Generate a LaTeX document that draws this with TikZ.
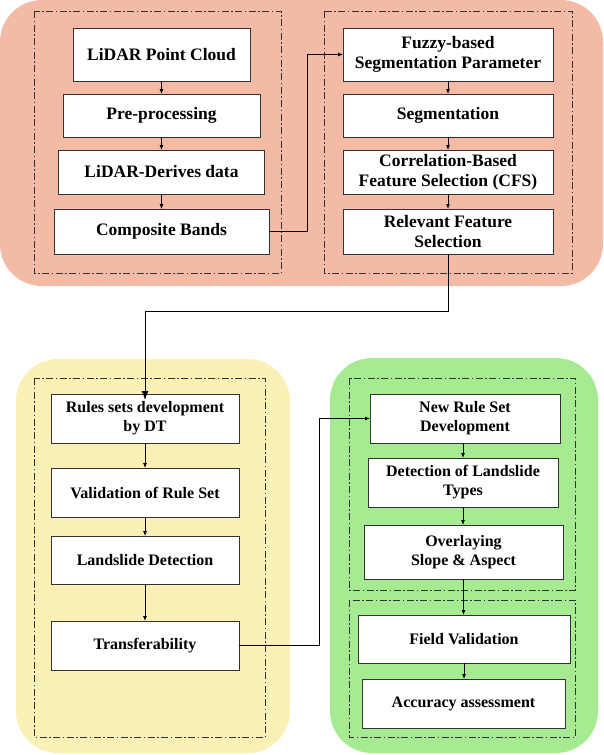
\documentclass[tikz,border=0pt]{standalone}
\usepackage{fontspec}
\setmainfont{Liberation Serif}
\usetikzlibrary{arrows.meta}
\definecolor{salmon}{RGB}{243,186,165}
\definecolor{pyellow}{RGB}{251,241,183}
\definecolor{pgreen}{RGB}{166,235,145}
\definecolor{edge}{RGB}{50,50,50}
\tikzset{
  boxT/.style={draw=edge, line width=0.9pt, fill=white, inner sep=0pt, outer sep=0pt, align=center,
    font=\fontsize{17.5}{20}\selectfont\bfseries},
  boxB/.style={draw=edge, line width=0.9pt, fill=white, inner sep=0pt, outer sep=0pt, align=center,
    font=\fontsize{16}{19}\selectfont\bfseries},
  frame/.style={draw=edge, line width=0.8pt, dash pattern=on 7pt off 2.5pt on 1.5pt off 2.5pt},
  arr/.style={draw=black, line width=0.8pt, -{Latex[length=5pt,width=4pt]}},
  bigarr/.style={draw=black, line width=1pt, -{Latex[length=9pt,width=7pt]}},
  panel/.style={rounded corners=42pt, draw=none}
}
\begin{document}
\begin{tikzpicture}[x=1pt,y=-1pt]
\useasboundingbox (0,0) rectangle (604,755);
% panels
\fill[salmon, panel] (0,0) rectangle (603,286);
\fill[pyellow, panel] (16,359) rectangle (290,753);
\fill[pgreen, panel] (330,358) rectangle (598,753);
% frames
\draw[frame] (34,11) rectangle (281,273);
\draw[frame] (324,11) rectangle (572,273);
\draw[frame] (34,378) rectangle (265,737);
\draw[frame] (349,378) rectangle (575,590);
\draw[frame] (349,600) rectangle (575,737);
% top-left boxes
\node[boxT, minimum width=177pt, minimum height=53pt] (lpc) at (161.5,54.5) {LiDAR Point Cloud};
\node[boxT, minimum width=197pt, minimum height=43pt] (pre) at (161.5,115.5) {Pre-processing};
\node[boxT, minimum width=206pt, minimum height=44pt] (lder) at (161.5,172) {LiDAR-Derives data};
\node[boxT, minimum width=215pt, minimum height=45pt] (comp) at (161.5,231.5) {Composite Bands};
% top-right boxes
\node[boxT, minimum width=210pt, minimum height=53pt] (fuzzy) at (448,54.5) {Fuzzy-based\\Segmentation Parameter};
\node[boxT, minimum width=210pt, minimum height=43pt] (seg) at (448,115.5) {Segmentation};
\node[boxT, minimum width=210pt, minimum height=44pt] (cfs) at (448,172) {Correlation-Based\\Feature Selection (CFS)};
\node[boxT, minimum width=210pt, minimum height=45pt] (rel) at (448,231.5) {Relevant Feature\\Selection};
% yellow boxes
\node[boxB, minimum width=188pt, minimum height=49pt] (rules) at (145,418.5) {Rules sets development\\by DT};
\node[boxB, minimum width=188pt, minimum height=49pt] (valid) at (145,492.5) {Validation of Rule Set};
\node[boxB, minimum width=188pt, minimum height=48pt] (lsd) at (145,560) {Landslide Detection};
\node[boxB, minimum width=188pt, minimum height=49pt] (trans) at (145,645.5) {Transferability};
% green boxes
\node[boxB, minimum width=190pt, minimum height=49pt] (newrule) at (465,418.5) {New Rule Set\\Development};
\node[boxB, minimum width=190pt, minimum height=49pt] (dlt) at (463,482.5) {Detection of Landslide\\Types};
\node[boxB, minimum width=199pt, minimum height=54pt] (over) at (463.5,552) {Overlaying\\Slope \& Aspect};
\node[boxB, minimum width=212pt, minimum height=48pt] (field) at (464,639) {Field Validation};
\node[boxB, minimum width=203pt, minimum height=49pt] (acc) at (463.5,703.5) {Accuracy assessment};
% junction coordinates
\coordinate (j1) at (307,0);
\coordinate (j2) at (0,311);
\coordinate (j3) at (319,0);
% arrows in columns
\draw[arr] (lpc.south) -- (lpc.south |- pre.north);
\draw[arr] (pre.south) -- (pre.south |- lder.north);
\draw[arr] (lder.south) -- (lder.south |- comp.north);
\draw[arr] (fuzzy.south) -- (fuzzy.south |- seg.north);
\draw[arr] (seg.south) -- (seg.south |- cfs.north);
\draw[arr] (cfs.south) -- (cfs.south |- rel.north);
\draw[arr] (rules.south) -- (rules.south |- valid.north);
\draw[arr] (valid.south) -- (valid.south |- lsd.north);
\draw[arr] (lsd.south) -- (lsd.south |- trans.north);
\draw[arr] (dlt.north |- newrule.south) -- (dlt.north);
\draw[arr] (dlt.south) -- (dlt.south |- over.north);
\draw[arr] (over.south) -- (over.south |- field.north);
\draw[arr] (field.south) -- (field.south |- acc.north);
% cross connectors
\draw[arr] (comp.east) -- (comp.east -| j1) |- (fuzzy.west);
\draw[bigarr] (rel.south) -- (rel.south |- j2) -| ([yshift=-6pt]rules.north);
\draw[arr] (trans.east) -- (trans.east -| j3) |- (newrule.west);
\end{tikzpicture}
\end{document}
